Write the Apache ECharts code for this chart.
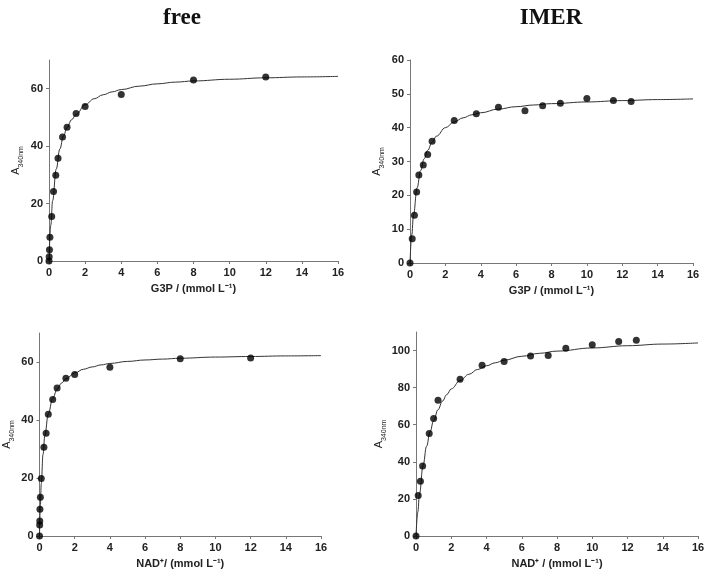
<!DOCTYPE html>
<html>
<head>
<meta charset="utf-8">
<script src="https://cdn.jsdelivr.net/npm/echarts@6/dist/echarts.min.js"></script>
<style>
  html, body { margin: 0; padding: 0; background: #fff; }
  #chart { width: 712px; height: 579px; }
</style>
</head>
<body>
<div id="chart"></div>
<script>
var freeG3pX = [0, 0.01, 0.025, 0.05, 0.15, 0.25, 0.375, 0.5, 0.75, 1, 1.5, 2, 4, 8, 12];
var freeG3pY = [0, 1.5, 3.9, 8.3, 15.5, 24.2, 29.9, 35.8, 43.2, 46.6, 51.4, 53.8, 58.0, 63.0, 64.1];
var imerG3pX = [0, 0.125, 0.25, 0.375, 0.5, 0.75, 1, 1.25, 2.5, 3.75, 5, 6.5, 7.5, 8.5, 10, 11.5, 12.5];
var imerG3pY = [0, 7.2, 14.1, 21.0, 26.0, 29.0, 32.1, 36.0, 42.1, 44.1, 46.0, 45.0, 46.5, 47.2, 48.6, 48.0, 47.7];
var freeNadX = [0, 0.01, 0.015, 0.025, 0.05, 0.1, 0.25, 0.375, 0.5, 0.75, 1, 1.5, 2, 4, 8, 12];
var freeNadY = [0, 3.8, 5.2, 9.2, 13.4, 19.8, 30.6, 35.4, 42.0, 47.1, 51.0, 54.4, 55.7, 58.2, 61.1, 61.4];
var imerNadX = [0, 0.125, 0.25, 0.375, 0.75, 1, 1.25, 2.5, 3.75, 5, 6.5, 7.5, 8.5, 10, 11.5, 12.5];
var imerNadY = [0, 21.8, 29.5, 37.8, 55.3, 63.4, 73.2, 84.5, 92.1, 94.1, 97.1, 97.3, 101.3, 103.1, 104.9, 105.6];

// fitted curves
var freeG3pCurveX = [0, 0.1, 0.2, 0.4, 0.6, 0.8, 1, 1.25, 1.5, 2, 2.5, 3, 3.5, 4, 5, 6, 7, 8, 10, 12, 14, 16];
var freeG3pCurveY = [0, 12.5, 21, 32, 39, 43.5, 46.5, 49.2, 51, 54.4, 56.5, 57.9, 58.9, 59.7, 60.9, 61.7, 62.3, 62.7, 63.3, 63.8, 64.1, 64.3];
var imerG3pCurveX = [0, 0.1, 0.2, 0.4, 0.6, 0.8, 1, 1.25, 1.5, 2, 2.5, 3, 3.5, 4, 5, 6, 7, 8, 10, 12, 14, 16];
var imerG3pCurveY = [0, 8.3, 14.3, 22.2, 27.3, 30.8, 33.3, 35.7, 37.5, 40, 41.7, 42.9, 43.8, 44.4, 45.5, 46.2, 46.7, 47.1, 47.6, 48, 48.3, 48.5];
var freeNadCurveX = [0, 0.05, 0.1, 0.2, 0.3, 0.5, 0.75, 1, 1.25, 1.5, 2, 2.5, 3, 3.5, 4, 5, 6, 7, 8, 10, 12, 14, 16];
var freeNadCurveY = [0, 10.5, 18, 28.1, 34.5, 42.1, 47.4, 50.6, 52.7, 54.2, 56.2, 57.5, 58.3, 59.0, 59.5, 60.2, 60.7, 61.0, 61.3, 61.7, 61.9, 62.1, 62.2];
var imerNadCurveX = [0, 0.1, 0.2, 0.4, 0.6, 0.8, 1, 1.25, 1.5, 1.75, 2, 2.5, 3, 3.5, 4, 4.5, 5, 6, 7, 8, 10, 12, 14, 16];
var imerNadCurveY = [0, 12.8, 22.9, 37.9, 48.4, 56.3, 62.3, 68.1, 72.7, 76.3, 79.3, 83.8, 87.2, 89.8, 91.8, 93.4, 94.8, 96.9, 98.5, 99.7, 101.4, 102.6, 103.5, 104.1];

var xTicks = [0, 2, 4, 6, 8, 10, 12, 14, 16];
var panelTitles = ['free', 'IMER'];
var xNames = ['G3P / (mmol L\u207B\u00B9)', 'G3P / (mmol L\u207B\u00B9)', 'NAD\u207A/ (mmol L\u207B\u00B9)', 'NAD\u207A / (mmol L\u207B\u00B9)'];
var yMax = [70, 60, 70, 110];
var yTicks = [[0, 20, 40, 60], [0, 10, 20, 30, 40, 50, 60], [0, 20, 40, 60], [0, 20, 40, 60, 80, 100]];

var pointsX = [freeG3pX, imerG3pX, freeNadX, imerNadX];
var pointsY = [freeG3pY, imerG3pY, freeNadY, imerNadY];
var curveX = [freeG3pCurveX, imerG3pCurveX, freeNadCurveX, imerNadCurveX];
var curveY = [freeG3pCurveY, imerG3pCurveY, freeNadCurveY, imerNadCurveY];

function pairs(xs, ys) {
  return xs.map(function (x, i) { return [x, ys[i]]; });
}

var chart = echarts.init(document.getElementById('chart'));

var grids = [
  { left: 49, top: 60, width: 289, height: 201 },
  { left: 410, top: 60, width: 283, height: 203 },
  { left: 39, top: 333, width: 282, height: 203 },
  { left: 416, top: 332, width: 282, height: 204 }
];

var labelFont = { fontFamily: 'Liberation Sans, Arial, sans-serif', fontWeight: 'bold', fontSize: 11, color: '#222' };
var axisColor = '#777';

var xAxes = [], yAxes = [], series = [];
for (var i = 0; i < 4; i++) {
  xAxes.push({
    gridIndex: i, type: 'value', min: 0, max: 16, interval: 2,
    name: xNames[i], nameLocation: 'middle', nameGap: 22,
    nameTextStyle: labelFont,
    axisLine: { lineStyle: { color: axisColor, width: 1 } },
    axisTick: { customValues: xTicks, length: 3, lineStyle: { color: axisColor } },
    axisLabel: Object.assign({ customValues: xTicks, margin: 6 }, labelFont),
    splitLine: { show: false }
  });
  yAxes.push({
    gridIndex: i, type: 'value', min: 0, max: yMax[i],
    name: '{a|A}{s|340nm}', nameLocation: 'middle', nameGap: 26, nameRotate: 90,
    nameTextStyle: {
      rich: {
        a: { fontFamily: 'Liberation Sans, Arial, sans-serif', fontSize: 11, color: '#222', lineHeight: 14, verticalAlign: 'middle' },
        s: { fontFamily: 'Liberation Sans, Arial, sans-serif', fontSize: 7, color: '#222', lineHeight: 14, verticalAlign: 'bottom', padding: [0, 0, -2, 0] }
      }
    },
    axisLine: { show: true, lineStyle: { color: axisColor, width: 1 } },
    axisTick: { show: true, customValues: yTicks[i], length: 3, lineStyle: { color: axisColor } },
    axisLabel: Object.assign({ customValues: yTicks[i], margin: 6 }, labelFont),
    splitLine: { show: false }
  });
  series.push({
    type: 'line', xAxisIndex: i, yAxisIndex: i,
    data: pairs(curveX[i], curveY[i]),
    smooth: 0.4, smoothMonotone: 'x', showSymbol: false,
    lineStyle: { color: '#333', width: 1 },
    silent: true, z: 2
  });
  series.push({
    type: 'scatter', xAxisIndex: i, yAxisIndex: i,
    data: pairs(pointsX[i], pointsY[i]),
    symbol: 'circle', symbolSize: 7,
    itemStyle: { color: '#000' },
    z: 3
  });
}

chart.setOption({
  animation: false,
  title: [
    { text: panelTitles[0], left: 177, top: 2, textAlign: 'center',
      textStyle: { fontFamily: 'Liberation Serif, Times New Roman, serif', fontWeight: 'bold', fontSize: 23, color: '#111' } },
    { text: panelTitles[1], left: 546, top: 2, textAlign: 'center',
      textStyle: { fontFamily: 'Liberation Serif, Times New Roman, serif', fontWeight: 'bold', fontSize: 23, color: '#111' } }
  ],
  grid: grids,
  xAxis: xAxes,
  yAxis: yAxes,
  series: series
});
</script>
</body>
</html>
